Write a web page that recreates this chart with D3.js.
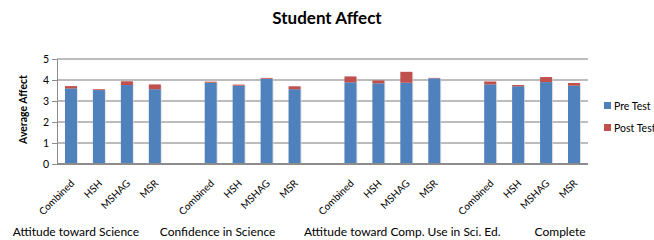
<html lang="en">
<head>
<meta charset="utf-8">
<title>Student Affect</title>
<script src="https://d3js.org/d3.v7.min.js"></script>
<style>
  body { margin: 0; background: #fff; }
  svg { font-family: Lato, "Open Sans", sans-serif; }
  .grid line { stroke: #a6a6a6; stroke-width: 1.5px; }
</style>
</head>
<body>
<svg id="chart" width="654" height="240"></svg>
<script>
// data
var groups = ["Attitude toward Science", "Confidence in Science", "Attitude toward Comp. Use in Sci. Ed.", "Complete"];
var subgroups = ["Combined", "HSH", "MSHAG", "MSR"];
var preTest = [
  [3.60, 3.52, 3.76, 3.56],
  [3.87, 3.73, 4.06, 3.56],
  [3.89, 3.84, 3.87, 4.08],
  [3.79, 3.70, 3.90, 3.73]
];
var postTest = [
  [0.11, 0.04, 0.18, 0.23],
  [0.05, 0.05, 0.04, 0.14],
  [0.28, 0.14, 0.52, 0.02],
  [0.14, 0.06, 0.24, 0.13]
];
var yTicks = [0, 1, 2, 3, 4, 5];
var seriesNames = ["Pre Test", "Post Test"];
var colors = ["#4f81bd", "#c0504d"];

// slots: 4 bars per group, one empty slot between groups
var slots = [];
groups.forEach(function (g, gi) {
  subgroups.forEach(function (s, si) {
    slots.push({key: gi + "-" + si, group: gi, label: s, pre: preTest[gi][si], post: postTest[gi][si]});
  });
  if (gi < groups.length - 1) slots.push({key: "gap" + gi, group: gi, label: "", gap: true});
});

var svg = d3.select("#chart");
var margin = {left: 57, right: 66, top: 59, bottom: 76};
var width = 654 - margin.left - margin.right,
    height = 240 - margin.top - margin.bottom;
var g = svg.append("g").attr("transform", "translate(" + margin.left + "," + margin.top + ")");

var x = d3.scaleBand().domain(slots.map(function (d) { return d.key; }))
  .range([0, width]).paddingInner(0.57).paddingOuter(0.285);
var y = d3.scaleLinear().domain([0, 5]).range([height, 0]);

// title
svg.append("text").attr("x", 327).attr("y", 24).attr("text-anchor", "middle")
  .style("font-size", "17px").style("font-weight", "bold").text("Student Affect");

// gridlines
g.append("g").attr("class", "grid").selectAll("line")
  .data(yTicks.filter(function (t) { return t > 0; })).enter().append("line")
  .attr("x1", 0).attr("x2", width)
  .attr("y1", function (d) { return y(d); }).attr("y2", function (d) { return y(d); });

// y axis
var yAxis = g.append("g").call(d3.axisLeft(y).tickValues(yTicks).tickFormat(d3.format("d")).tickSize(5).tickSizeOuter(0));
yAxis.select(".domain").attr("stroke", "#8c8c8c");
yAxis.selectAll(".tick line").attr("stroke", "#8c8c8c");
yAxis.selectAll(".tick text").style("font-size", "10.5px").style("font-family", "Lato, sans-serif").attr("fill", "#000");

svg.append("text")
  .attr("transform", "translate(23," + (margin.top + height / 2 - 2) + ") rotate(-90)")
  .attr("text-anchor", "middle").attr("dy", "0.35em")
  .style("font-size", "10.5px").style("font-weight", "bold").text("Average Affect");

// bars
var bars = g.selectAll(".bar").data(slots.filter(function (d) { return !d.gap; })).enter().append("g");
bars.append("rect")
  .attr("x", function (d) { return x(d.key) + 1; })
  .attr("y", function (d) { return y(d.pre + d.post) + 1; })
  .attr("width", x.bandwidth())
  .attr("height", function (d) { return height - y(d.pre + d.post) - 1; })
  .attr("fill", "#d9d9d9").attr("opacity", 0.7);
bars.append("rect")
  .attr("x", function (d) { return x(d.key); })
  .attr("y", function (d) { return y(d.pre); })
  .attr("width", x.bandwidth())
  .attr("height", function (d) { return height - y(d.pre); })
  .attr("fill", colors[0]);
bars.append("rect")
  .attr("x", function (d) { return x(d.key); })
  .attr("y", function (d) { return y(d.pre + d.post); })
  .attr("width", x.bandwidth())
  .attr("height", function (d) { return y(d.pre) - y(d.pre + d.post); })
  .attr("fill", colors[1]);

// x axis line
g.append("line").attr("x1", 0).attr("x2", width).attr("y1", height).attr("y2", height)
  .attr("stroke", "#8c8c8c").attr("stroke-width", 2);

// subgroup labels
g.selectAll(".xlab").data(slots.filter(function (d) { return !d.gap; })).enter().append("text")
  .attr("transform", function (d) {
    return "translate(" + (x(d.key) + x.bandwidth() / 2 + 4) + "," + (height + 20) + ") rotate(-45)";
  })
  .attr("text-anchor", "end").style("font-size", "10px").text(function (d) { return d.label; });

// group labels
var groupLabelShift = [-37, -35, 10, 28];
groups.forEach(function (name, gi) {
  var first = x(gi + "-0"), last = x(gi + "-3") + x.bandwidth();
  svg.append("text")
    .attr("x", margin.left + (first + last) / 2 + groupLabelShift[gi])
    .attr("y", 236).attr("text-anchor", "middle")
    .style("font-size", "12px").text(name);
});

// legend
var legend = svg.append("g").attr("transform", "translate(604,102)");
seriesNames.forEach(function (name, i) {
  var row = legend.append("g").attr("transform", "translate(0," + (i * 22) + ")");
  row.append("rect").attr("width", 7).attr("height", 7).attr("fill", colors[i]);
  row.append("text").attr("x", 10).attr("y", 4).attr("dy", "0.35em")
    .style("font-size", "10.5px").text(name);
});
</script>
</body>
</html>
